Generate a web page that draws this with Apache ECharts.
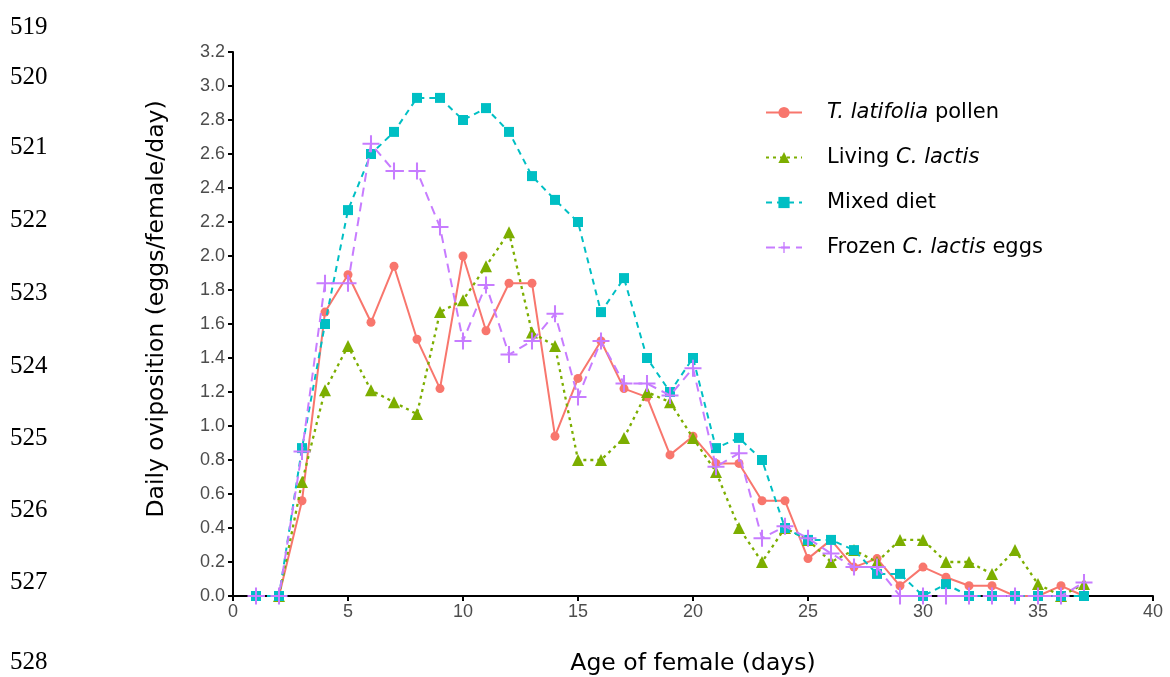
<!DOCTYPE html>
<html>
<head>
<meta charset="utf-8">
<script src="https://cdn.jsdelivr.net/npm/echarts@6/dist/echarts.min.js"></script>
<style>html,body{margin:0;padding:0;background:#fff;overflow:hidden}#c{width:1170px;height:677px}</style>
</head>
<body>
<div id="c"></div>
<script>
const days = [1,2,3,4,5,6,7,8,9,10,11,12,13,14,15,16,17,18,19,20,21,22,23,24,25,26,27,28,29,30,31,32,33,34,35,36,37];
const seriesNames = ['{i|T. latifolia} pollen', 'Living {i|C. lactis}', 'Mixed diet', 'Frozen {i|C. lactis} eggs'];
const pollen = [null,0,0.56,1.67,1.89,1.61,1.94,1.51,1.22,2.0,1.56,1.84,1.84,0.94,1.28,1.50,1.22,1.17,0.83,0.94,0.78,0.78,0.56,0.56,0.22,0.33,0.17,0.22,0.06,0.17,0.11,0.06,0.06,0,0,0.06,0];
const living = [null,0,0.67,1.21,1.47,1.21,1.14,1.07,1.67,1.74,1.94,2.14,1.55,1.47,0.80,0.80,0.93,1.20,1.14,0.93,0.73,0.40,0.20,0.40,0.33,0.20,0.27,0.20,0.33,0.33,0.20,0.20,0.13,0.27,0.07,0,0.07];
const mixed = [0,0,0.87,1.60,2.27,2.60,2.73,2.93,2.93,2.80,2.87,2.73,2.47,2.33,2.20,1.67,1.87,1.40,1.20,1.40,0.87,0.93,0.80,0.40,0.33,0.33,0.27,0.13,0.13,0,0.07,0,0,0,0,0,0];
const frozen = [0,0,0.85,1.84,1.84,2.66,2.50,2.50,2.17,1.50,1.83,1.42,1.50,1.66,1.17,1.50,1.25,1.25,1.18,1.34,0.76,0.84,0.34,0.41,0.34,0.25,0.17,0.17,0,0,0,0,0,0,0,0,0.08];
const xTicks = [0,5,10,15,20,25,30,35,40];
const lineNumbers = ['519','520','521','522','523','524','525','526','527','528'];

function pairs(arr){ const out=[]; arr.forEach((v,i)=>{ if(v!==null) out.push([days[i], v]); }); return out; }

const lineNumY = [27,77,147,220,293,366,438,510,582,662];
const chart = echarts.init(document.getElementById('c'), null, {renderer:'canvas'});
const plus = 'path://M4.4,0H5.6V4.4H10V5.6H5.6V10H4.4V5.6H0V4.4H4.4Z';
const F = '"DejaVu Sans"';
const A = '"Liberation Sans"';
chart.setOption({
  animation:false,
  backgroundColor:'#fff',
  grid:{left:233,right:17,top:52,bottom:81,containLabel:false,outerBoundsMode:'none'},
  graphic: lineNumbers.map((t,i)=>({type:'text', x:10, y:lineNumY[i], style:{text:t, font:'25px "Liberation Serif"', fill:'#000', verticalAlign:'middle'}})),
  legend:{
    orient:'vertical', left:765, top:102, padding:0, itemWidth:36, itemHeight:14, itemGap:24,
    textStyle:{fontFamily:F, fontSize:21, color:'#000', padding:[0,0,0,20],
      rich:{i:{fontStyle:'italic', fontFamily:F, fontSize:21, color:'#000'}}},
    data: seriesNames
  },
  xAxis:{
    type:'value', min:0, max:40, interval:5,
    name:'Age of female (days)', nameLocation:'middle', nameGap:56,
    nameTextStyle:{fontFamily:F, fontSize:23.5, color:'#000'},
    axisLine:{show:true, onZero:false, lineStyle:{color:'#000', width:2}},
    axisTick:{show:true, length:5, lineStyle:{color:'#000', width:2}},
    axisLabel:{color:'#4d4d4d', fontFamily:A, fontSize:18, margin:7},
    splitLine:{show:false}
  },
  yAxis:{
    type:'value', min:0, max:3.2, interval:0.2,
    name:'Daily oviposition (eggs/female/day)', nameLocation:'middle', nameGap:64,
    nameTextStyle:{fontFamily:F, fontSize:23.5, color:'#000', padding:[0,0,0,30]},
    axisLine:{show:true, lineStyle:{color:'#000', width:2}},
    axisTick:{show:true, length:5, lineStyle:{color:'#000', width:2}},
    axisLabel:{color:'#4d4d4d', fontFamily:A, fontSize:18, margin:8, formatter:v=>v.toFixed(1)},
    splitLine:{show:false}
  },
  series:[
    {name:seriesNames[0], type:'line', data:pairs(pollen), symbol:'circle', symbolSize:9,
      itemStyle:{color:'#F8766D'}, lineStyle:{color:'#F8766D', width:2, type:'solid'}, z:2},
    {name:seriesNames[1], type:'line', data:pairs(living), symbol:'triangle', symbolSize:12,
      itemStyle:{color:'#7CAE00'}, lineStyle:{color:'#7CAE00', width:2.3, type:[3,4]}, z:3},
    {name:seriesNames[2], type:'line', data:pairs(mixed), symbol:'rect', symbolSize:10,
      itemStyle:{color:'#00BFC4'}, lineStyle:{color:'#00BFC4', width:2, type:[6,5]}, z:4},
    {name:seriesNames[3], type:'line', data:pairs(frozen), symbol:plus, symbolSize:17,
      itemStyle:{color:'#C77CFF'}, lineStyle:{color:'#C77CFF', width:2, type:[9,6]}, z:5}
  ]
});
</script>
</body>
</html>
